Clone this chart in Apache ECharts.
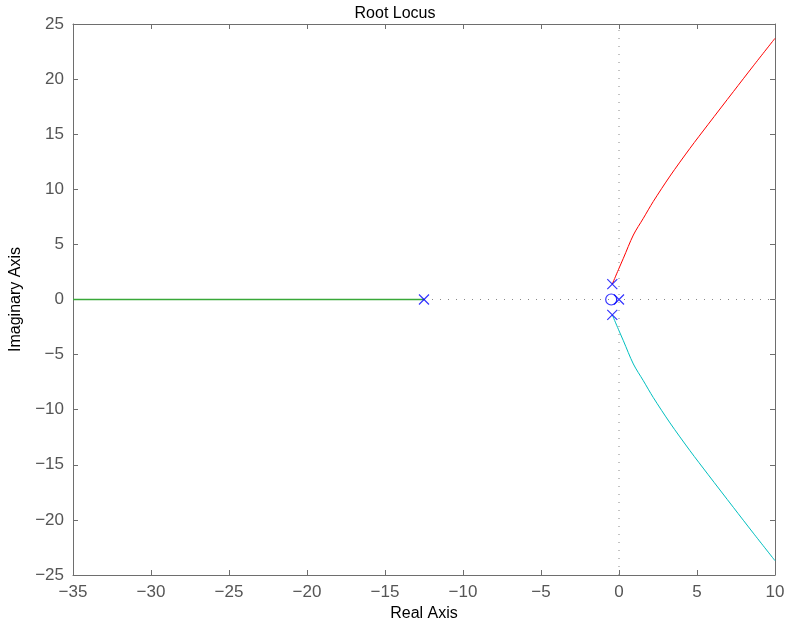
<!DOCTYPE html>
<html>
<head>
<meta charset="utf-8">
<script src="https://cdn.jsdelivr.net/npm/echarts@6/dist/echarts.min.js"></script>
<style>
  html, body { margin: 0; padding: 0; background: #fff; }
  #chart { width: 790px; height: 631px; }
</style>
</head>
<body>
<div id="chart"></div>
<script>
// root locus branches
const upperBranch = [[-0.43, 1.4], [-0.04, 2.7], [0.28, 3.74], [0.92, 5.85], [1.56, 7.37], [2.2, 8.9],
  [3.27, 11.2], [4.55, 13.72], [5.72, 15.9], [7.33, 18.86], [8.61, 21.2], [10, 23.7]];
const lowerBranch = [[-0.43, -1.4], [-0.04, -2.7], [0.28, -3.74], [0.92, -5.85], [1.56, -7.37], [2.2, -8.9],
  [3.27, -11.2], [4.55, -13.72], [5.72, -15.9], [7.33, -18.86], [8.61, -21.2], [10, -23.7]];
const realBranch = [[-35, 0], [-12.5, 0]];
const poles = [[-12.5, 0], [-0.43, 1.4], [-0.43, -1.4], [0, 0]];
const zeros = [[-0.5, 0]];
const xTicks = [-35, -30, -25, -20, -15, -10, -5, 0, 5, 10];
const yTicks = [-25, -20, -15, -10, -5, 0, 5, 10, 15, 20, 25];

const font = 'Liberation Sans, Arial, Helvetica, sans-serif';
const axisGray = '#6e6e6e';
const fmt = v => String(v).replace('-', '\u2212');

function renderChart() {
  const chart = echarts.init(document.getElementById('chart'));
  const boxAxis = {
    axisLine: { show: true, onZero: false, lineStyle: { color: axisGray, width: 1 } },
    axisTick: { show: true, inside: true, length: 5, lineStyle: { color: axisGray } },
    splitLine: { show: false },
  };
  const labelStyle = { formatter: fmt, fontFamily: font, fontSize: 17, color: '#555', margin: 9 };
  const nameStyle = { fontFamily: font, fontSize: 16, color: '#000' };
  const option = {
    animation: false,
    backgroundColor: '#fff',
    title: {
      text: 'Root Locus',
      left: 'center',
      top: 1,
      textStyle: { fontFamily: font, fontSize: 16, fontWeight: 'normal', color: '#000' }
    },
    grid: { left: 73, right: 15, top: 24, bottom: 56 },
    xAxis: [
      Object.assign({
        type: 'value', min: xTicks[0], max: xTicks[xTicks.length - 1], interval: 5,
        name: 'Real Axis', nameLocation: 'middle', nameGap: 30,
        nameTextStyle: nameStyle, axisLabel: labelStyle
      }, boxAxis),
      Object.assign({
        type: 'value', position: 'top', min: xTicks[0], max: xTicks[xTicks.length - 1], interval: 5,
        axisLabel: { show: false }
      }, boxAxis)
    ],
    yAxis: [
      Object.assign({
        type: 'value', min: yTicks[0], max: yTicks[yTicks.length - 1], interval: 5,
        name: 'Imaginary Axis', nameLocation: 'middle', nameGap: 49,
        nameTextStyle: nameStyle, axisLabel: labelStyle
      }, boxAxis),
      Object.assign({
        type: 'value', position: 'right', min: yTicks[0], max: yTicks[yTicks.length - 1], interval: 5,
        axisLabel: { show: false }
      }, boxAxis)
    ],
    series: [
      {
        type: 'line', data: [[realBranch[1][0], 0], [xTicks[xTicks.length - 1], 0]], symbol: 'none', silent: true,
        lineStyle: { color: '#888', width: 1, type: [1, 7] }, z: 1
      },
      {
        type: 'line', data: [[0, yTicks[0]], [0, yTicks[yTicks.length - 1]]], symbol: 'none', silent: true,
        lineStyle: { color: '#888', width: 1, type: [1, 7] }, z: 1
      },
      {
        type: 'line', data: realBranch, symbol: 'none',
        lineStyle: { color: '#38a838', width: 1.5 }, z: 5
      },
      {
        type: 'line', data: upperBranch, symbol: 'none', smooth: 0.3,
        lineStyle: { color: '#ff0000', width: 1 }, z: 2
      },
      {
        type: 'line', data: lowerBranch, symbol: 'none', smooth: 0.3,
        lineStyle: { color: '#00bfbf', width: 1 }, z: 2
      },
      {
        type: 'scatter', data: poles, symbol: 'path://M0,0L10,10M10,0L0,10', symbolSize: 10,
        itemStyle: { color: 'none', borderColor: '#0000ff', borderWidth: 1.2 }, z: 6
      },
      {
        type: 'scatter', data: zeros, symbol: 'circle', symbolSize: 11,
        itemStyle: { color: 'none', borderColor: '#0000ff', borderWidth: 1.2 }, z: 6
      }
    ]
  };
  chart.setOption(option, true);
}
renderChart();
</script>
</body>
</html>
